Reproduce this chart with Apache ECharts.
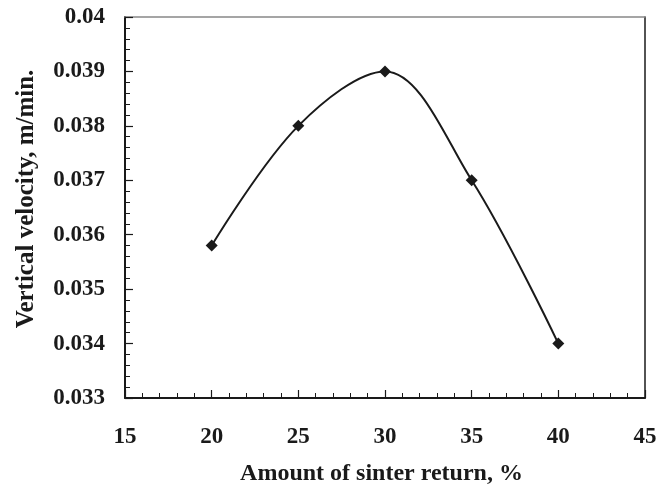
<!DOCTYPE html>
<html>
<head>
<meta charset="utf-8">
<script src="https://cdn.jsdelivr.net/npm/echarts@6/dist/echarts.min.js"></script>
<style>
  html, body { margin: 0; padding: 0; background: #fff; }
  #chart { width: 660px; height: 494px; }
</style>
</head>
<body>
<div id="chart"></div>
<script>
// Sinter return amount (%) against vertical sintering velocity (m/min)
var sinterReturn = [20, 25, 30, 35, 40];
var verticalVelocity = [0.0358, 0.038, 0.039, 0.037, 0.034];
var xTicks = [15, 20, 25, 30, 35, 40, 45];
var yTicks = [0.033, 0.034, 0.035, 0.036, 0.037, 0.038, 0.039, 0.04];

var FONT = '"Liberation Serif", "Times New Roman", serif';
var INK = '#1a1a1a';

var points = sinterReturn.map(function (x, i) { return [x, verticalVelocity[i]]; });

var chart = echarts.init(document.getElementById('chart'), null, { renderer: 'canvas' });

chart.setOption({
  animation: false,
  backgroundColor: '#fff',
  grid: { left: 125, right: 15, top: 17, bottom: 96, containLabel: false },
  xAxis: [{
    type: 'value',
    min: xTicks[0],
    max: xTicks[xTicks.length - 1],
    interval: 5,
    name: 'Amount of sinter return, %',
    nameLocation: 'middle',
    nameGap: 64,
    nameTextStyle: { fontFamily: FONT, fontWeight: 'bold', fontSize: 24, color: INK, padding: [0, 7, 0, 0] },
    axisLine: { lineStyle: { color: INK, width: 2 } },
    axisTick: { inside: true, length: 8, lineStyle: { color: INK, width: 1.2 } },
    minorTick: { show: true, splitNumber: 5, length: 5, lineStyle: { color: INK, width: 1 } },
    axisLabel: { margin: 28, fontFamily: FONT, fontWeight: 'bold', fontSize: 23, color: INK },
    splitLine: { show: false }
  }, {
    type: 'value',
    position: 'top',
    min: xTicks[0],
    max: xTicks[xTicks.length - 1],
    axisLine: { show: true, lineStyle: { color: '#888', width: 1.5 } },
    axisTick: { show: false },
    axisLabel: { show: false },
    splitLine: { show: false }
  }],
  yAxis: [{
    type: 'value',
    min: yTicks[0],
    max: yTicks[yTicks.length - 1],
    interval: 0.001,
    name: 'Vertical velocity, m/min.',
    nameLocation: 'middle',
    nameGap: 86,
    nameTextStyle: { fontFamily: FONT, fontWeight: 'bold', fontSize: 25, color: INK, padding: [0, 0, 0, 17] },
    axisLine: { lineStyle: { color: INK, width: 2 } },
    axisTick: { inside: true, length: 8, lineStyle: { color: INK, width: 1.2 } },
    minorTick: { show: true, splitNumber: 5, length: 5, lineStyle: { color: INK, width: 1 } },
    axisLabel: {
      margin: 20, fontFamily: FONT, fontWeight: 'bold', fontSize: 23, color: INK,
      formatter: function (v) { return String(parseFloat(v.toFixed(4))); }
    },
    splitLine: { show: false }
  }, {
    type: 'value',
    position: 'right',
    min: yTicks[0],
    max: yTicks[yTicks.length - 1],
    axisLine: { show: true, lineStyle: { color: INK, width: 1.5 } },
    axisTick: { show: false },
    axisLabel: { show: false },
    splitLine: { show: false }
  }],
  series: [{
    type: 'line',
    data: points,
    smooth: 0.35,
    symbol: 'diamond',
    symbolSize: 12,
    itemStyle: { color: INK },
    lineStyle: { color: INK, width: 2 }
  }]
});
</script>
</body>
</html>
